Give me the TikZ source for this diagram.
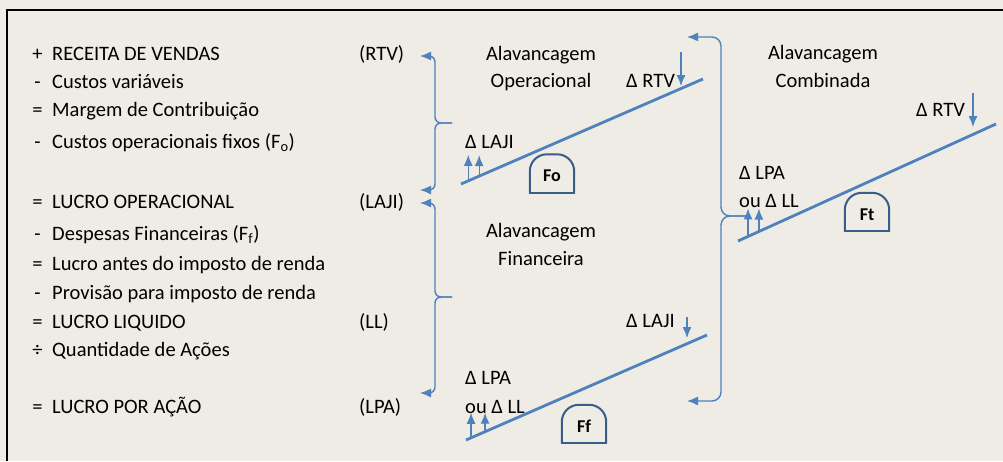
\documentclass[tikz,border=0pt]{standalone}
\usepackage{fontspec}
\setmainfont{Carlito}
\usetikzlibrary{arrows.meta, positioning, calc}

\definecolor{paper}{HTML}{EEECE4}
\definecolor{lev}{HTML}{4F81BD}
\definecolor{levdark}{HTML}{385D8A}

\tikzset{
  row/.style={font=\fontsize{20.5}{24}\selectfont, inner sep=0pt, anchor=base west},
  sgn/.style={font=\fontsize{20.5}{24}\selectfont, inner sep=0pt, anchor=base},
  head/.style={font=\fontsize{20.5}{24}\selectfont, inner sep=0pt, anchor=base},
  dome/.style={font=\bfseries\fontsize{18}{18}\selectfont, inner sep=0pt,
    minimum width=44pt, minimum height=38pt, text height=17pt},
  domeline/.style={levdark, line width=2pt},
  brace/.style={lev, line width=1.4pt, rounded corners=6pt, -{Latex[length=11pt,width=9pt]}},
  slope/.style={lev, line width=2.8pt},
  push/.style={lev, line width=1.3pt, -{Latex[length=11pt,width=9pt]}},
}

\begin{document}
\begin{tikzpicture}[x=1pt,y=-1pt]
  \fill[paper] (0,0) rectangle (1003,461);
  \useasboundingbox (0,0) rectangle (1003,461);
  \draw[line width=2pt] (7,461) -- (7,10) -- (1003,10);

  % Income statement
  \foreach \id/\s/\t/\y in {
      r1/+/RECEITA DE VENDAS/60,
      r2/-/Custos variáveis/88,
      r3/=/Margem de Contribuição/116,
      r4/-/Custos operacionais fixos (F\textsubscript{o})/148,
      r5/=/LUCRO OPERACIONAL/208,
      r6/-/Despesas Financeiras (F\textsubscript{f})/240,
      r7/=/Lucro antes do imposto de renda/270,
      r8/-/Provisão para imposto de renda/299,
      r9/=/LUCRO LIQUIDO/328,
      r10/÷/Quantidade de Ações/356,
      r11/=/LUCRO POR AÇÃO/413}
  {
    \node[sgn] (s\id) at (37.5,\y) {\s};
    \node[row] (\id) at (52,\y) {\t};
  }

  \node[row] (rtv)  at (359,60)  {(RTV)};
  \node[row] (laji) at (359,208) {(LAJI)};
  \node[row] (ll)   at (359,328) {(LL)};
  \node[row] (lpa)  at (359,413) {(LPA)};

  % Braces
  \coordinate (opTip)   at (452,123);
  \coordinate (fiTip)   at (452,297);
  \coordinate (coTip)   at (748,216);
  \coordinate (rtvEnd)  at (420,56);
  \coordinate (lajiEndA) at (420,190);
  \coordinate (lajiEndB) at (420,203);
  \coordinate (lpaEnd)  at (420,393);
  \coordinate (coTop)   at (687,37);
  \coordinate (coBot)   at (687,401);

  \draw[brace] (opTip) -- ++(-17,0) |- (rtvEnd);
  \draw[brace] (opTip) -- ++(-17,0) |- (lajiEndA);
  \draw[brace] (fiTip) -- ++(-17,0) |- (lajiEndB);
  \draw[brace] (fiTip) -- ++(-17,0) |- (lpaEnd);
  \draw[brace, rounded corners=9pt] (coTip) -- ++(-27,0) |- (coTop);
  \draw[brace, rounded corners=9pt] (coTip) -- ++(-27,0) |- (coBot);

  % Operational leverage
  \node[head] (opT) at (541,60) {Alavancagem};
  \node[head] (opB) at (541,87) {Operacional};
  \node[row] (dRtvOp)  at (626,87)  {Δ RTV};
  \node[row] (dLajiOp) at (465,148) {Δ LAJI};
  \coordinate (opLo) at (461,184);
  \coordinate (opHi) at (703,79);
  \draw[slope] (opLo) -- (opHi);
  \coordinate (opIn) at (681,52);
  \draw[push] (opIn) -- ++(0,34);
  \foreach \f/\h in {.03/26,.075/21}
    \draw[push] ($(opLo)!\f!(opHi)$) -- ++(0,-\h);
  \node[dome] (fo) at (552,173.5) {Fo};

  % Financial leverage
  \node[head] (fiT) at (541,237) {Alavancagem};
  \node[head] (fiB) at (541,265) {Financeira};
  \node[row] (dLajiFi) at (626,327) {Δ LAJI};
  \node[row] (dLpaFi)  at (465,384) {Δ LPA};
  \node[row] (dLlFi)   at (465,413) {ou Δ LL};
  \coordinate (fiLo) at (466,440);
  \coordinate (fiHi) at (707,335);
  \draw[slope] (fiLo) -- (fiHi);
  \coordinate (fiIn) at (687,317);
  \draw[push] (fiIn) -- ++(0,21);
  \foreach \f/\h in {.021/25,.079/19}
    \draw[push] ($(fiLo)!\f!(fiHi)$) -- ++(0,-\h);
  \node[dome] (ff) at (584,424) {Ff};

  % Combined leverage
  \node[head] (coT) at (823,59) {Alavancagem};
  \node[head] (coB) at (823,87) {Combinada};
  \node[row] (dRtvCo) at (916,116) {Δ RTV};
  \node[row] (dLpaCo) at (739,179) {Δ LPA};
  \node[row] (dLlCo)  at (739,207) {ou Δ LL};
  \coordinate (coLo) at (738,241);
  \coordinate (coHi) at (996,124);
  \draw[slope] (coLo) -- (coHi);
  \coordinate (coIn) at (973,93);
  \draw[push] (coIn) -- ++(0,34);
  \foreach \f/\h in {.039/28,.081/23}
    \draw[push] ($(coLo)!\f!(coHi)$) -- ++(0,-\h);
  \node[dome] (ft) at (867,212) {Ft};

  % Dome outlines
  \foreach \n in {fo,ff,ft} {
    \draw[domeline, rounded corners=17pt] (\n.south west) -- (\n.north west)
      -- (\n.north east) -- (\n.south east);
    \draw[domeline, line cap=rect] (\n.south west) -- (\n.south east);
  }
\end{tikzpicture}
\end{document}
